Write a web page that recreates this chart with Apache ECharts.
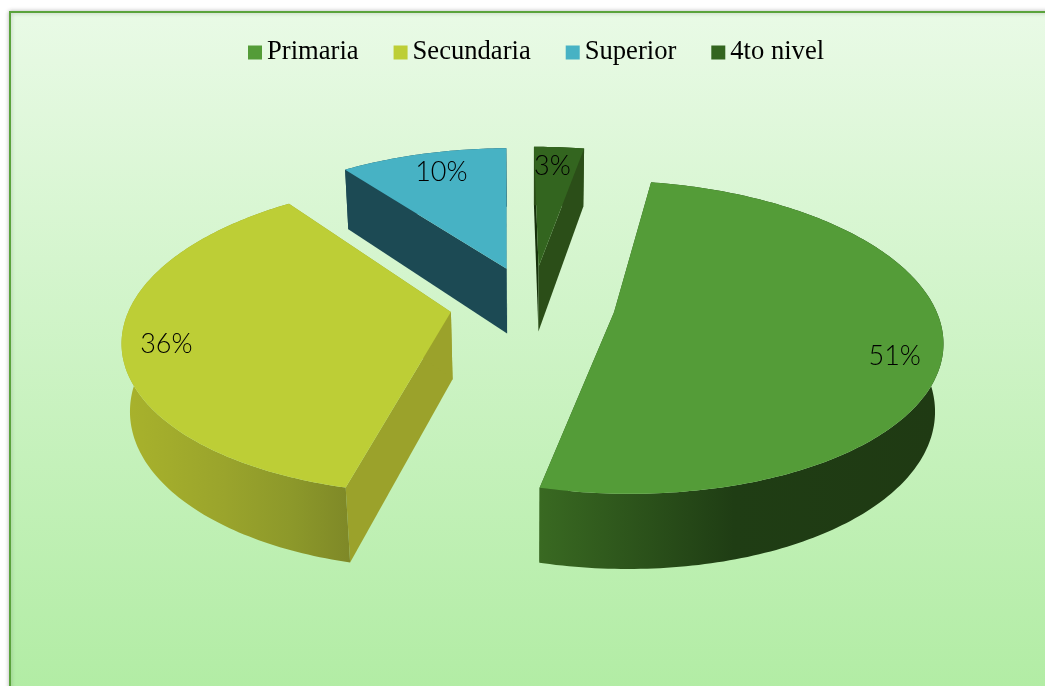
<!DOCTYPE html>
<html>
<head>
<meta charset="utf-8">
<style>
  html, body { margin: 0; padding: 0; background: #fff; }
  #chart { width: 1045px; height: 686px; }
</style>
<script src="https://cdn.jsdelivr.net/npm/echarts@6/dist/echarts.min.js"></script>
</head>
<body>
<div id="chart"></div>
<script>
const categories = ['Primaria', 'Secundaria', 'Superior', '4to nivel']
const shares = [51, 36, 10, 3]

const topColors = ['#549C38', '#BDCE36', '#47B2C4', '#33651F']
const startFaceColors = ['#2A5218', '#9BA22B', '#1C4A54', '#15300A']
const endFaceColors = ['#2A5218', '#9BA22B', '#1C4A54', '#2B4E18']
const rimStops = [
  [[0, '#3A6B22'], [0.5, '#1F3D14'], [1, '#1F3A13']],
  [[0, '#A9B32C'], [0.45, '#9AA42C'], [0.75, '#8C982A'], [1, '#7E8827']],
  [[0, '#1C4A54'], [1, '#1C4A54']],
  [[0, '#2B4E18'], [1, '#2B4E18']],
]
// px nudges, Excel explodes each point a little differently
const sliceNudge = [[-4, -2], [1, -2], [-1, -1], [-2, -1]]
const labelNudge = [[2, 17], [-6, 5], [7, 3], [-4, 3]]

// camera settings, fitted by eye
const originX = 534
const originY = 306
const radiusX = 320
const radiusY = 150
const depthK = 0.158
const wallDrop = 68
const wallShrink = 0.02
const explode = 0.266
const firstAngle = 10

function project(x, y, low) {
  const w = 1 - depthK * y + (low ? wallShrink : 0)
  return [
    originX + (radiusX * x) / w,
    originY + (radiusY * y + (low ? wallDrop : 0)) / w,
  ]
}

function rad(deg) {
  return (deg * Math.PI) / 180
}

function renderSlice(index, api) {
  const total = shares.reduce((a, b) => a + b, 0)
  const before = shares.slice(0, index).reduce((a, b) => a + b, 0)
  const from = firstAngle + (before / total) * 360
  const to = from + (api.value(0) / total) * 360
  const mid = rad((from + to) / 2)
  const ax = explode * Math.sin(mid)
  const ay = -explode * Math.cos(mid)

  const rimAt = (deg, low, r = 1) =>
    project(ax + r * Math.sin(rad(deg)), ay - r * Math.cos(rad(deg)), low)

  const topArc = []
  const lowArc = []
  for (let d = from; d < to; d += 1) {
    topArc.push(rimAt(d, false))
    lowArc.push(rimAt(d, true))
  }
  topArc.push(rimAt(to, false))
  lowArc.push(rimAt(to, true))

  const apexTop = project(ax, ay, false)
  const apexLow = project(ax, ay, true)

  const poly = (points, fill) => ({
    type: 'polygon',
    shape: { points },
    style: { fill },
  })

  const labelPos = rimAt((from + to) / 2, false, 0.85)

  return {
    type: 'group',
    x: sliceNudge[index][0],
    y: sliceNudge[index][1],
    children: [
      poly([apexTop, topArc[0], lowArc[0], apexLow], startFaceColors[index]),
      poly(
        [apexTop, topArc[topArc.length - 1], lowArc[lowArc.length - 1], apexLow],
        endFaceColors[index],
      ),
      poly(topArc.concat(lowArc.slice().reverse()), {
        type: 'linear',
        x: index === 0 ? 536 : 120,
        y: 0,
        x2: index === 0 ? 940 : 350,
        y2: 0,
        global: true,
        colorStops: rimStops[index].map(([offset, color]) => ({ offset, color })),
      }),
      poly([apexTop].concat(topArc), topColors[index]),
      {
        type: 'text',
        x: labelPos[0] + labelNudge[index][0],
        y: labelPos[1] + labelNudge[index][1],
        style: {
          text: api.value(0) + '%',
          fill: '#000',
          font: '300 27px Lato, sans-serif',
          align: 'center',
          verticalAlign: 'middle',
        },
      },
    ],
  }
}

const chart = echarts.init(document.getElementById('chart'), null, { renderer: 'canvas' })

chart.setOption({
  backgroundColor: '#fff',
  animation: false,
  graphic: [
    {
      type: 'rect',
      z: -1,
      shape: { x: 10, y: 12, width: 1060, height: 700 },
      style: {
        fill: new echarts.graphic.LinearGradient(0, 0, 0, 1, [
          { offset: 0, color: '#E9FAE6' },
          { offset: 1, color: '#B0ECA2' },
        ]),
        stroke: '#5AA33C',
        lineWidth: 2,
        shadowBlur: 4,
        shadowColor: 'rgba(0,0,0,0.25)',
      },
    },
  ],
  legend: {
    left: 243,
    top: 34,
    icon: 'rect',
    itemWidth: 14,
    itemHeight: 14,
    itemGap: 35,
    data: categories,
    textStyle: {
      fontFamily: '"Liberation Serif", serif',
      fontSize: 26.6,
      color: '#000',
    },
    selectedMode: false,
  },
  series: categories.map((name, i) => ({
    type: 'custom',
    name,
    coordinateSystem: 'none',
    silent: true,
    itemStyle: { color: topColors[i] },
    data: [shares[i]],
    renderItem: (params, api) => renderSlice(i, api),
  })),
})
</script>
</body>
</html>
